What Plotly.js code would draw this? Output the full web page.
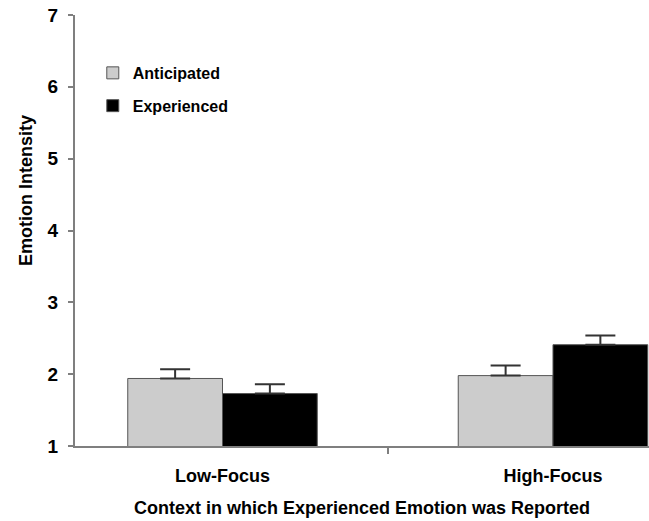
<!DOCTYPE html>
<html>
<head>
<meta charset="utf-8">
<script src="https://cdn.plot.ly/plotly-3.0.1.min.js"></script>
<style>html,body{margin:0;padding:0;background:#fff;}#chart{width:649px;height:521px;}</style>
</head>
<body>
<div id="chart"></div>
<script>
// Data
const contexts = ["Low-Focus", "High-Focus"];
const anticipated = [1.94, 1.98];
const anticipatedErr = [0.13, 0.14];
const experienced = [1.73, 2.41];
const experiencedErr = [0.13, 0.13];
const yTicks = [1, 2, 3, 4, 5, 6, 7];

const FONT = '"Liberation Sans", Arial, Helvetica, sans-serif';
const AXIS = '#7f7f7f';

const traces = [
  {
    type: 'bar', name: 'Anticipated', x: contexts, y: anticipated,
    marker: {color: '#cccccc', line: {color: '#555555', width: 1}},
    error_y: {type: 'data', symmetric: false, array: anticipatedErr,
              arrayminus: anticipated.map(() => 0), color: '#333333', thickness: 2, width: 15},
    legendgroup: 'a'
  },
  {
    type: 'bar', name: 'Experienced', x: contexts, y: experienced,
    marker: {color: '#000000', line: {color: '#555555', width: 1}},
    error_y: {type: 'data', symmetric: false, array: experiencedErr,
              arrayminus: experienced.map(() => 0), color: '#333333', thickness: 2, width: 15},
    legendgroup: 'b'
  }
];

const layout = {
  width: 649, height: 521,
  margin: {l: 75, r: 0, t: 15, b: 75},
  paper_bgcolor: '#ffffff', plot_bgcolor: '#ffffff',
  font: {family: FONT, color: '#000000', weight: 'bold'},
  barmode: 'group', bargap: 0.4266, bargroupgap: 0,
  showlegend: true,
  legend: {
    x: 0.031, y: 0.905, xanchor: 'left', yanchor: 'top',
    bgcolor: 'rgba(0,0,0,0)', borderwidth: 0,
    font: {family: FONT, size: 16, weight: 'bold', color: '#000'},
    traceorder: 'grouped', tracegroupgap: 9
  },
  xaxis: {
    type: 'category', range: [-0.4463, 1.2905],
    showline: true, linecolor: AXIS, linewidth: 2,
    ticks: 'outside', tickson: 'boundaries', ticklen: 6, tickwidth: 2, tickcolor: AXIS,
    showgrid: false, zeroline: false,
    tickfont: {family: FONT, size: 18, weight: 'bold', color: '#000'},
    ticklabelstandoff: 12,
    title: {text: 'Context in which Experienced Emotion was Reported',
            font: {family: FONT, size: 18, weight: 'bold', color: '#000'}, standoff: 17}
  },
  yaxis: {
    range: [1, 7], tickvals: yTicks, ticktext: yTicks.map(String),
    showline: true, linecolor: AXIS, linewidth: 2,
    ticks: 'outside', ticklen: 5, tickwidth: 2, tickcolor: AXIS,
    showgrid: false, zeroline: false,
    tickfont: {family: FONT, size: 19, weight: 'bold', color: '#000'},
    ticklabelstandoff: 6
  },
  annotations: [{
    text: 'Emotion Intensity', textangle: -90, showarrow: false,
    xref: 'paper', yref: 'paper', x: (26 - 75) / 574, y: (446 - 190) / 431,
    xanchor: 'center', yanchor: 'middle',
    font: {family: FONT, size: 18, weight: 'bold', color: '#000'}
  }]
};

Plotly.newPlot('chart', traces, layout, {displayModeBar: false, staticPlot: true});
</script>
</body>
</html>
